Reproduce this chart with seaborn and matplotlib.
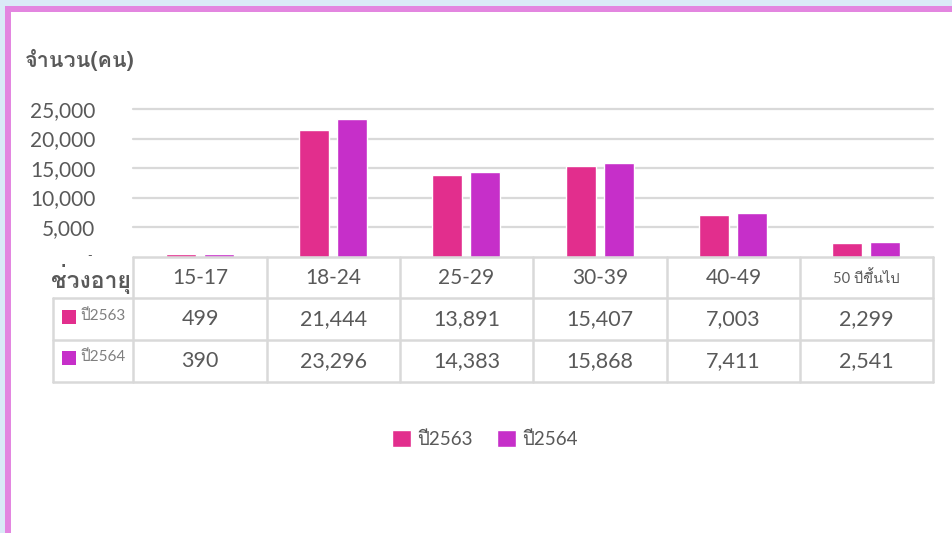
import matplotlib
matplotlib.use("Agg")
import matplotlib.pyplot as plt
import matplotlib.transforms as mtrans
import seaborn as sns
import pandas as pd
from matplotlib import font_manager
from matplotlib.ft2font import FT2Font
from matplotlib.patches import Rectangle

# ---- data ----
categories = ["15-17", "18-24", "25-29", "30-39", "40-49", "50 ปีขึ้นไป"]
series_names = ["ปี2563", "ปี2564"]
values_2563 = [499, 21444, 13891, 15407, 7003, 2299]
values_2564 = [390, 23296, 14383, 15868, 7411, 2541]
y_ticks = [0, 5000, 10000, 15000, 20000, 25000]
y_tick_labels = ["-", "5,000", "10,000", "15,000", "20,000", "25,000"]
title_text = "จำนวน(คน)"
header_text = "ช่วงอายุ"
colors = ["#E22E8D", "#C62FC9"]

# ---- fonts ----
def find_thai():
    names = []
    for f in font_manager.fontManager.ttflist:
        try:
            cm = FT2Font(f.fname).get_charmap()
            if 0x0E08 in cm and 0x0E48 in cm and 0x0E35 in cm:
                names.append(f.name)
        except Exception:
            pass
    return names

thai = find_thai()
fam = ["Lato"] + thai[:1] + ["DejaVu Sans"]
thai_fam = thai[:1] + ["Lato", "DejaVu Sans"]
sns.set_theme(style="white")
plt.rcParams["font.family"] = fam
GRAY = "#595959"
LINE = "#D9D9D9"

W, H = 952, 533
fig = plt.figure(figsize=(W / 100, H / 100), dpi=100)
fig.patch.set_facecolor("white")

def fx(px):
    return px / W

def fy(py):
    return 1 - py / H

# frame
fig.add_artist(Rectangle((0, fy(6)), 1, 6 / H, transform=fig.transFigure, color="#DAEAF7", lw=0))
fig.add_artist(Rectangle((0, 0), 5 / W, 1, transform=fig.transFigure, color="#DAEAF7", lw=0))
fig.add_artist(Rectangle((fx(5), fy(12)), 1, 6 / H, transform=fig.transFigure, color="#E386E0", lw=0))
fig.add_artist(Rectangle((fx(5), 0), 6 / W, fy(6), transform=fig.transFigure, color="#E386E0", lw=0))

# axes
ax_l, ax_r, ax_t, ax_b = 133, 933, 109, 256.5
ax = fig.add_axes([fx(ax_l), fy(ax_b), (ax_r - ax_l) / W, (ax_b - ax_t) / H])
df = pd.DataFrame({
    "cat": categories * 2,
    "series": [series_names[0]] * len(categories) + [series_names[1]] * len(categories),
    "value": values_2563 + values_2564,
})
sns.barplot(data=df, x="cat", y="value", hue="series", palette=colors, ax=ax,
            width=0.57, gap=0.21, saturation=1, legend=True)
ax.set_xlim(-0.5, len(categories) - 0.5)
ax.set_ylim(0, 25000)
ax.set_yticks(y_ticks)
ax.set_yticklabels(y_tick_labels)
ax.set_xticks([])
ax.set_xlabel("")
ax.set_ylabel("")
for s in ax.spines.values():
    s.set_visible(False)
ax.tick_params(axis="y", length=0, pad=27, labelsize=15, labelcolor=GRAY)
ax.get_yticklabels()[0].set_visible(False)
# zero shown as a small dash (accounting style), set a bit inside the label column
zero_tr = mtrans.blended_transform_factory(
    ax.transAxes + mtrans.ScaledTranslation(-43 / 100, 0, fig.dpi_scale_trans),
    ax.transData)
ax.text(0, y_ticks[0], y_tick_labels[0], transform=zero_tr, ha="center", va="center",
        fontsize=9, color=GRAY, clip_on=False)
for t in y_ticks[1:]:
    ax.axhline(t, color=LINE, lw=1.6, zorder=0, clip_on=False)
ax.set_axisbelow(True)
handles, labels = ax.get_legend_handles_labels()
ax.get_legend().remove()

# table
col_x = [133, 267, 400, 533, 667, 800, 933]
row_y = [257, 298, 340, 382]
lw = 1.8
for i in range(len(row_y)):
    x0 = 133 if i == 0 else 53
    fig.add_artist(plt.Line2D([fx(x0), fx(933)], [fy(row_y[i])] * 2, color=LINE, lw=lw))
for x in col_x:
    fig.add_artist(plt.Line2D([fx(x)] * 2, [fy(257), fy(382)], color=LINE, lw=lw))
fig.add_artist(plt.Line2D([fx(53)] * 2, [fy(298), fy(382)], color=LINE, lw=lw))

for j, c in enumerate(categories):
    cx = (col_x[j] + col_x[j + 1]) / 2
    small = j == len(categories) - 1
    fig.text(fx(cx), fy(278), c, ha="center", va="center", color=GRAY,
             fontsize=10.5 if small else 15)
    fig.text(fx(cx), fy(319), f"{values_2563[j]:,}", ha="center", va="center", color=GRAY, fontsize=15.5)
    fig.text(fx(cx), fy(361), f"{values_2564[j]:,}", ha="center", va="center", color=GRAY, fontsize=15.5)

for r, (name, col) in enumerate(zip(series_names, colors)):
    cy = [317, 358][r]
    fig.add_artist(Rectangle((fx(62), fy(cy + 7)), 14 / W, 14 / H, transform=fig.transFigure,
                             color=col, lw=0))
    fig.text(fx(80), fy(cy - 1), name, ha="left", va="center", color="#7F7F7F", fontsize=11)

fig.text(fx(131), fy(279), header_text, ha="right", va="center", color=GRAY,
         fontsize=16.5, fontweight="bold", family=thai_fam)
fig.text(fx(25), fy(60), title_text, ha="left", va="center", color=GRAY,
         fontsize=15.5, fontweight="bold", family=thai_fam)

leg = fig.legend(handles, labels, loc="center", bbox_to_anchor=(fx(485), fy(439)),
                 ncol=2, frameon=False, fontsize=13.5, handlelength=1.0, handleheight=1.0,
                 handletextpad=0.35, columnspacing=1.3, labelcolor=GRAY)

fig.savefig("out.png", dpi=100)
